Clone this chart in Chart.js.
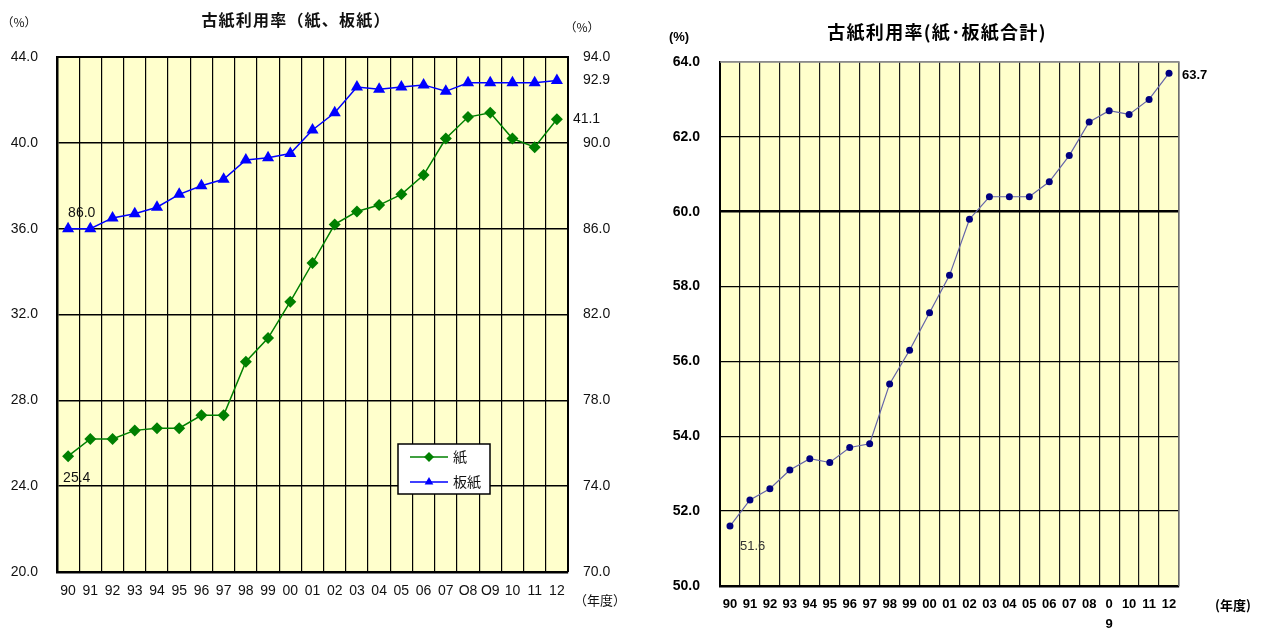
<!DOCTYPE html>
<html lang="ja">
<head>
<meta charset="utf-8">
<title>古紙利用率</title>
<script src="https://cdn.jsdelivr.net/npm/chart.js@4.4.1/dist/chart.umd.min.js"></script>
<style>
    html, body { margin: 0; padding: 0; background: #fff; }
    #wrap { position: relative; width: 1261px; height: 630px; overflow: hidden; }
    #rateChart { position: absolute; left: 0; top: 0; }
    #totalChart { position: absolute; left: 640px; top: 0; }
</style>
</head>
<body>
<div id="wrap">
    <canvas id="rateChart" width="640" height="630"></canvas>
    <canvas id="totalChart" width="621" height="630"></canvas>
</div>
<script>
// ============================================================================
// Data
// ============================================================================

// fiscal years (left chart writes 08/09 with a letter O, right chart wraps 09)
const years = ['90', '91', '92', '93', '94', '95', '96', '97', '98', '99', '00', '01',
    '02', '03', '04', '05', '06', '07', 'O8', 'O9', '10', '11', '12'];
const yearsTotal = ['90', '91', '92', '93', '94', '95', '96', '97', '98', '99', '00', '01',
    '02', '03', '04', '05', '06', '07', '08', ['0', '9'], '10', '11', '12'];

// waste paper utilization rate (%)
const paperRate = [25.4, 26.2, 26.2, 26.6, 26.7, 26.7, 27.3, 27.3, 29.8, 30.9, 32.6, 34.4,
    36.2, 36.8, 37.1, 37.6, 38.5, 40.2, 41.2, 41.4, 40.2, 39.8, 41.1];
const boardRate = [86.0, 86.0, 86.5, 86.7, 87.0, 87.6, 88.0, 88.3, 89.2, 89.3, 89.5, 90.6,
    91.4, 92.6, 92.5, 92.6, 92.7, 92.4, 92.8, 92.8, 92.8, 92.8, 92.9];
const totalRate = [51.6, 52.3, 52.6, 53.1, 53.4, 53.3, 53.7, 53.8, 55.4, 56.3, 57.3, 58.3,
    59.8, 60.4, 60.4, 60.4, 60.8, 61.5, 62.4, 62.7, 62.6, 63.0, 63.7];

// axis tick values
const paperTicks = [20, 24, 28, 32, 36, 40, 44];
const boardTicks = [70, 74, 78, 82, 86, 90, 94];
const totalTicks = [50, 52, 54, 56, 58, 60, 62, 64];

// ============================================================================
// Helpers
// ============================================================================

const CJK = "'Noto Sans CJK JP', 'Noto Sans', sans-serif";
const SANS = "'Liberation Sans', Arial, sans-serif";
const PLOT_BG = '#FFFFCC';

Chart.defaults.color = '#111';
Chart.defaults.font.family = SANS;

const fmt1 = (v) => Number(v).toFixed(1);

function text(ctx, str, x, y, font, align, color, spacing) {
    ctx.save();
    ctx.font = font;
    ctx.fillStyle = color || '#111';
    ctx.textAlign = align || 'left';
    ctx.textBaseline = 'middle';
    if (spacing) ctx.letterSpacing = spacing;
    ctx.fillText(str, x, y);
    ctx.restore();
}

// yellow plot background, drawn before the grid
const plotBackground = {
    id: 'plotBackground',
    beforeDraw(chart) {
        const { ctx, chartArea: a } = chart;
        ctx.save();
        ctx.fillStyle = PLOT_BG;
        ctx.fillRect(a.left, a.top, a.right - a.left, a.bottom - a.top);
        ctx.restore();
    }
};

const fixWidth = (w) => (scale) => { scale.width = w; };
const fixHeight = (h) => (scale) => { scale.height = h; };

// ============================================================================
// Left chart: paper / paperboard
// ============================================================================

const rateDecor = {
    id: 'rateDecor',
    afterDraw(chart) {
        const { ctx, chartArea: a } = chart;
        const paper = chart.getDatasetMeta(0).data;
        const board = chart.getDatasetMeta(1).data;
        const last = paper.length - 1;

        // top + right frame
        ctx.save();
        ctx.strokeStyle = '#000';
        ctx.lineWidth = 2;
        ctx.beginPath();
        ctx.moveTo(a.left, a.top);
        ctx.lineTo(a.right, a.top);
        ctx.lineTo(a.right, a.bottom);
        ctx.stroke();
        ctx.restore();

        text(ctx, '古紙利用率（紙、板紙）', 296, 20, 'bold 16px ' + CJK, 'center', '#111', '1.2px');
        text(ctx, '（%）', 19, 22, '12px ' + CJK, 'center');
        text(ctx, '（%）', 582, 27, '12px ' + CJK, 'center');
        text(ctx, '（年度）', 600, 600, '13px ' + CJK, 'center');

        // value labels at first and last points
        const lf = '14px ' + SANS;
        text(ctx, fmt1(boardRate[0]), board[0].x, board[0].y - 16, lf);
        text(ctx, fmt1(paperRate[0]), paper[0].x - 5, paper[0].y + 22, lf);
        text(ctx, fmt1(boardRate[last]), board[last].x + 26, board[last].y, lf);
        text(ctx, fmt1(paperRate[last]), paper[last].x + 16, paper[last].y, lf);

        // legend box
        const bx = 398, by = 444, bw = 92, bh = 50;
        ctx.save();
        ctx.fillStyle = '#fff';
        ctx.fillRect(bx, by, bw, bh);
        ctx.strokeStyle = '#000';
        ctx.lineWidth = 1.5;
        ctx.strokeRect(bx, by, bw, bh);
        chart.data.datasets.forEach((ds, i) => {
            const y = by + 13 + i * 25;
            ctx.strokeStyle = ds.borderColor;
            ctx.lineWidth = 1.5;
            ctx.beginPath();
            ctx.moveTo(bx + 12, y);
            ctx.lineTo(bx + 50, y);
            ctx.stroke();
            ctx.fillStyle = ds.pointBackgroundColor;
            Chart.helpers.drawPoint(ctx, {
                pointStyle: ds.pointStyle, radius: 5, rotation: 0, borderWidth: 0
            }, bx + 31, y);
            text(ctx, ds.label, bx + 55, y, '14px ' + CJK);
        });
        ctx.restore();
    }
};

function initRateChart() {
    const ctx = document.getElementById('rateChart');
    return new Chart(ctx, {
        type: 'line',
        data: {
            labels: years,
            datasets: [
                {
                    label: '紙',
                    data: paperRate,
                    yAxisID: 'y',
                    borderColor: '#008000',
                    backgroundColor: '#008000',
                    pointBackgroundColor: '#008000',
                    pointStyle: 'rectRot',
                    pointRadius: 6,
                    pointBorderWidth: 0,
                    borderWidth: 1.5
                },
                {
                    label: '板紙',
                    data: boardRate,
                    yAxisID: 'y1',
                    borderColor: '#0000FF',
                    backgroundColor: '#0000FF',
                    pointBackgroundColor: '#0000FF',
                    pointStyle: 'triangle',
                    pointRadius: 7,
                    pointBorderWidth: 0,
                    borderWidth: 1.5
                }
            ]
        },
        options: {
            responsive: false,
            animation: false,
            layout: { padding: { top: 57, left: 0, right: 0, bottom: 0 } },
            plugins: { legend: { display: false }, tooltip: { enabled: false } },
            scales: {
                x: {
                    offset: true,
                    afterFit: fixHeight(58),
                    grid: { offset: true, color: '#000', lineWidth: 1.2, drawTicks: false },
                    border: { color: '#000', width: 2.5 },
                    ticks: { padding: 11, maxRotation: 0, autoSkip: false, font: { size: 14 }, color: '#111' }
                },
                y: {
                    position: 'left',
                    min: paperTicks[0],
                    max: paperTicks[paperTicks.length - 1],
                    afterFit: fixWidth(57),
                    grid: { color: '#000', lineWidth: 1.5, drawTicks: false },
                    border: { color: '#000', width: 2.5 },
                    ticks: {
                        stepSize: paperTicks[1] - paperTicks[0],
                        padding: 19,
                        font: { size: 14 },
                        color: '#111',
                        callback: fmt1
                    }
                },
                y1: {
                    position: 'right',
                    min: boardTicks[0],
                    max: boardTicks[boardTicks.length - 1],
                    afterFit: fixWidth(72),
                    grid: { display: false, drawTicks: false },
                    border: { display: false },
                    ticks: {
                        stepSize: boardTicks[1] - boardTicks[0],
                        padding: 15,
                        font: { size: 14 },
                        color: '#111',
                        callback: fmt1
                    }
                }
            }
        },
        plugins: [plotBackground, rateDecor]
    });
}

// ============================================================================
// Right chart: paper + paperboard total
// ============================================================================

const totalDecor = {
    id: 'totalDecor',
    afterDraw(chart) {
        const { ctx, chartArea: a } = chart;
        const pts = chart.getDatasetMeta(0).data;
        const last = pts.length - 1;

        // thin grey top + right frame
        ctx.save();
        ctx.strokeStyle = '#8a8a8a';
        ctx.lineWidth = 1.5;
        ctx.beginPath();
        ctx.moveTo(a.left, a.top);
        ctx.lineTo(a.right, a.top);
        ctx.lineTo(a.right, a.bottom);
        ctx.stroke();
        ctx.restore();

        text(ctx, '古紙利用率(紙･板紙合計)', 297, 32, 'bold 18px ' + CJK, 'center', '#000', '1.3px');
        text(ctx, '(%)', 39, 37, 'bold 13px ' + SANS, 'center', '#000');
        text(ctx, '(年度)', 593, 605, 'bold 13px ' + CJK, 'center', '#000');

        text(ctx, fmt1(totalRate[last]), pts[last].x + 13, pts[last].y + 2, 'bold 13px ' + SANS, 'left', '#000');
        text(ctx, fmt1(totalRate[0]), pts[0].x + 10, pts[0].y + 20, '13px ' + SANS, 'left', '#333');
    }
};

function initTotalChart() {
    const ctx = document.getElementById('totalChart');
    return new Chart(ctx, {
        type: 'line',
        data: {
            labels: yearsTotal,
            datasets: [{
                label: '紙・板紙合計',
                data: totalRate,
                borderColor: '#6464A8',
                borderWidth: 1.2,
                pointBackgroundColor: '#000080',
                pointBorderWidth: 0,
                pointRadius: 3.5
            }]
        },
        options: {
            responsive: false,
            animation: false,
            layout: { padding: { top: 62, left: 0, right: 82, bottom: 0 } },
            plugins: { legend: { display: false }, tooltip: { enabled: false } },
            scales: {
                x: {
                    offset: true,
                    afterFit: fixHeight(44),
                    grid: { offset: true, color: '#1a1a1a', lineWidth: 1.2, drawTicks: false },
                    border: { color: '#000', width: 2.5 },
                    ticks: {
                        padding: 9,
                        maxRotation: 0,
                        autoSkip: false,
                        color: '#000',
                        font: { size: 13, weight: 'bold', lineHeight: 1.5 }
                    }
                },
                y: {
                    min: totalTicks[0],
                    max: totalTicks[totalTicks.length - 1],
                    afterFit: fixWidth(80),
                    grid: {
                        drawTicks: false,
                        color: (c) => c.tick && c.tick.value === totalTicks[totalTicks.length - 1] ? '#8a8a8a' : '#000',
                        lineWidth: (c) => c.tick && c.tick.value === 60 ? 2.5 : 1.3
                    },
                    border: { color: '#000', width: 2 },
                    ticks: {
                        stepSize: totalTicks[1] - totalTicks[0],
                        padding: 20,
                        color: '#000',
                        font: { size: 14, weight: 'bold' },
                        callback: fmt1
                    }
                }
            }
        },
        plugins: [plotBackground, totalDecor]
    });
}

// ============================================================================
// Initialization
// ============================================================================
initRateChart();
initTotalChart();
</script>
</body>
</html>
